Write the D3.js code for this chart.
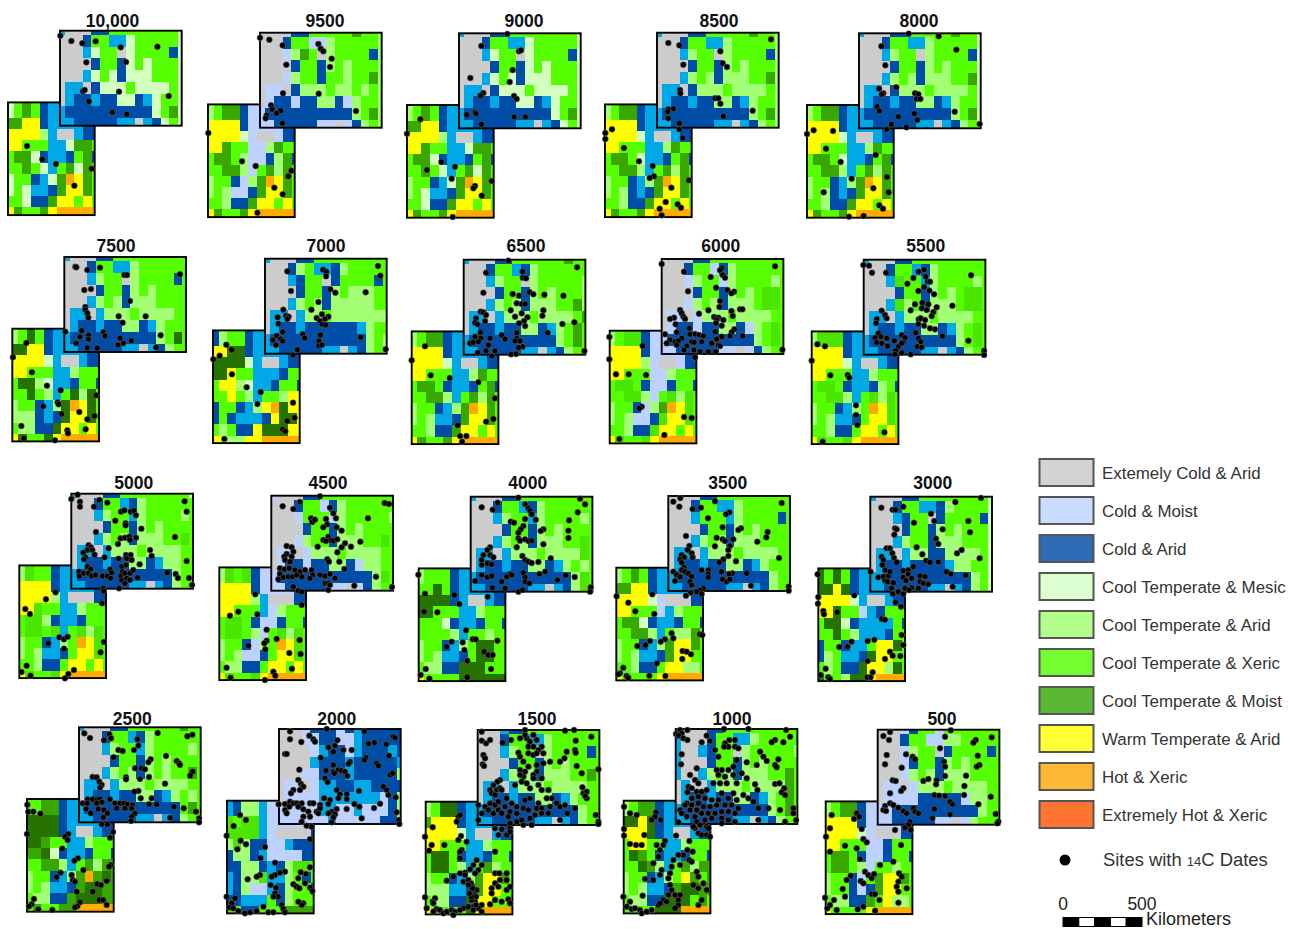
<!DOCTYPE html>
<html>
<head>
<meta charset="utf-8">
<script src="https://cdn.jsdelivr.net/npm/d3@7"></script>
<style>
  html, body { margin: 0; padding: 0; background: #fff; }
  svg { display: block; font-family: "Liberation Sans", Arial, sans-serif; }
</style>
</head>
<body>
<script>
// years before present, one map each
const periods = ["10,000","9500","9000","8500","8000","7500","7000","6500","6000","5500","5000","4500","4000","3500","3000","2500","2000","1500","1000","500"];

// climate class of every grid cell, one string per row
const cellCodes = ["g","p","s","d","m","a","x","e","t","v","y","o"];
const cellColors = ["#cccccc","#bed2ff","#00a9e6","#004da8","#d3ffbe","#a3ff73","#55ff00","#4ce600","#38a800","#267300","#ffff00","#ffaa00"];

const upperGrids = [
"sgggddxxxxxxxxm gggdxxssmxxxxxm gggsmxxgmxxxxdm ggggdxxdmxmxxxm gggsmxmdmmmxxxm gssgdmmmxmmmmxm gsddsddmmdsmxxm sddddddddddmxtm ssdddddssgsdmxm",
"ggggddxxxxxtxxa gggdxxppaxxxxxa gggpatxgaxxxxda ggggdxxdaxaxxxa gggpaxxdxxaxxta gppgdaaaxaaxaxa gpddpddaadpaxxa pddddddddddaxta ppdddddppgpdaxa",
"sgggddxxxxxxxxm gggdxxssmxxxxxm gggsmxxgmxxxxdm ggggdxxdmxmxxxm gggsmxmdmmmxxxm gssgdmmmxmmmmxm gsddsddmmdsmxxm sddddddddddmxtm ssdddddssgsdmxm",
"sgggddxxxxxtxxa gggdxxssaxxxxxa gggsaxxgaxxxxda ggggdxxdaxaxxxa gggsaxadaaaxxta gssgdaaaxaaaaxa gsddsddaadsaxxa sddddddddddaxta ssdddddssgsdaxa",
"sgggddxxxxxtxxm gggdxxssaxxxxxm gggsaxxgaxxxxdm ggggdxxdaxaxxxm gggsaxadaaaxxtm gssgdaaaxaaaaxm gsddsddaadsaxxm sddddddddddaxtm ssdddddssgsdaxm",
"sgggddxxxxxxxxx gggdxxssaxxxxxx gggsaxxgaxxxxdx ggggdxxdaxaxxxx gggsaxadaaaxxxx gssgsaaaxaaaaxx gsddsddaadsaxxx sddddddddddaxvx ssdddddssgsdaxx",
"sgggddxxxxxxxxx gggdaxssdaxxxxx gggsdxxgdxxxxdx ggggdxxdaxaaaxx gggsaxadaaaaaxx gssgsaaxaaaaaaa gsddsddddddsaxx sdddddddddddaxa ssdddddssgsdaxx",
"sgggddxxxxxxtxx gggdxxsdaxxxxxx gggsaxxgaxxxxxa ggggdxxdaxaxxxa gggsaxadaaaxxta gssgsaaaxaaaaxt gsddsddaadsaxtx sddddddddddaxtx ssdddddssgsdaxx",
"pgggddxxxxxxxxx gggdxxpdaxxxxxx gggpaxxpaxxxxax ggggdxxdaxaxeex gggpaxadaaaxeex gppgpaaaxaaaaxx gpddpddaadpaxex pddddddddddaxex ppdddddppgpdaxx",
"sgggddxxxxxxxxx gggdxxsdaxxxxxx gggsexxsaxxxxax ggggdxxdaxaxeex gggseaxdaaaxeex gssgsaaaxaaaaxx gsddsddaadsaxex sddddddddddaxex ssdddddssgsdaxx",
"sgggddxxxxxxxxm gggdxxsdaxxxxxx gggsaxxsaxxxxax ggggdxxdaxaxxxx gggsaxadaaaxxex gssgsaaaxaaaaxx gsddsddaadsaaxx sdddddddddddaxx ssdddddssgsdaxx",
"pgggddxxxxxxxxx gggdxxpdaxxxxxx gggpxxxpaxxxxxa ggggdxxdaxaxxxx gggpaxxdaaaxxex gppgpaaaxaaaaxx gpddpddaadpaaxx pdddddddddddaex ppdddddppgpdaxx",
"sgggddxxxxxxxxx gggdxxsdaxxxxxx gggsaxxsaxxxxax ggggdxxdaxaxxxx gggsaxadaaaxxex gssgsaaaxaaaaex gsddsddaadsaxax sdddddddddddaex ssdddddssgsdaex",
"ggggddxxxxxxxxx gggdxxssaxxxxxx gggsxxxsaxxxxdx ggggdxxdaxaxxxx gggsaxadaaaxxxx gssgsaaaxaaaaxx gsddsddaadsaxxx sdddddddddddaxx ssdddddssgsdaxx",
"sgggddxxxxxxxxm gggdxxssdaxxxxm gggsdxxgdxxxxdm ggggdxxdaxaxxxm gggsaxxdaaaxxxm gssgsaaddaaaaxm gsddsddddsaaxxm ssddddddddddaxm ssdddddssgsdaxm",
"sgggddxxxxxxtxx gggdxxsdaxxxxxx gggsaxxsaxxxxax ggggdxxdaxaxxxx gggsaxadaxaxxtx gssgsaaaxaaaaxx gsddsddaadsaxax sdddddddddddxtx ssdddddssgsdaxx",
"gggpdddpdsddddd gggppddppsddddd ggggpsddpsdddsd ggggsdddsddddds gggppdddsddddda gppgpssddssdddd gppppssssssspda pppppssppspppda ppppppspppppdda",
"gggsddxxxxxxxxx gggdxxssaxxxxxx gggsaxxgaxxxxdx ggggdxxdaxaxxxx gggsaxadaaaxxtx gssgsaaaxaaaaxx gsddsddaadsaxxx sdddddddddddaxx ssdddddssgsdaxx",
"sgggddxxxxxxxxx sgggdxxssaxxxxx sggsdxxgaxxxxxa sgggdxxdaxaxxxx sggsaxadaaaxxtx gsggsaaaxaaaatx gsddsddaadsaxtx sddddddddddaxtx ssdddddssgsdaxx",
"gggpdxxpxxxxxxx gggdxxppaaxxxxx gggpaxxgdxxxxdx gggpdxxdaxaxxxx gggpaxadaaaxxxx gppgpaaaxaaaaxx gppppdddddpaaxx ppddddddddddaxx ppdddddppgpaxxx"
];

const lowerGrids = [
"mxtxdssssss mxtxdssssss ttyydssssdd yyyyasggsdd yyxxxssmttx xttmdssdxtd xxtxmsxtmtx mxxdsmtoytx mxmssdtyytx xxmddtyyxyx ytxxtyooooo",
"axttdpppppp axttdpppppp yyyydppppdd yyyympggpdd yytxxppatxx xttxappdatd xxttapxtatx axxdpatoytx axappdtyytx xxaddtyyxyx ytxxtyooooo",
"axtxdssssss axtxdssssss ttyydssssdd yyyyasggsdd yytxxssmttx xttmdssdxtd xxtxmsxtmtx axxdsmtoytx axmssdtyytx xxmddtyyxyx ytxxtyooooo",
"axttdssssss axttdssssss yyyydssssdd yyyymsggsdd yyxxxssatxx xttxmssdxtd xxttasxtatx axxdsatoytx axadsdtyytx xxaddtyyxyx ytxxtyooooo",
"axttdssssss axttdssssss yyyydssssdd yyyymsggsdd yyxxxssatxx xttxmssdxtd xxttasxtatx axxdsatoytx axadsdtyytx xxaddtyyxyx ytxxtyooooo",
"axvxdssssss axvxdssssss vvyydssssdd yyyymsggsdd yyxxxssaxxx xvvamssdxxd xxvxasxvavx axxdsavoyvx aaadsdvyyvx xaaddvyyxyx yvxxvyooooo",
"daxxdssssss daxxdssssss yyvvdssssdd vvvvmsggsdd vvyxxsssdxx xyyamssdxxd xxyxasxxayy dxxdsayovyy dxdsssdyvvy xaxddyvvvyy yyaayyooooo",
"axttdssssss axttdssssss yyyydssssdd yyyymsggsdd yyxxxssatxx xttxdssdxtd xxttasxtatx axxdsatoytx axassdtyytx xxaddtyyxyx ytxxtyooooo",
"axeedpppppp axeedpppppp yyyydppppdd yyyyapggpdd yyxxxppaxxx xeexdppdxxd xxeeapxeaex axxdpatoyex axappdeyyex xxaddeyyxyx yexxeyooooo",
"aeeedssssss aeeedssssss yyyydssssdd yyyymsggsdd yyxxxssaxxx xeexdssdaxd xxeeasxeaex axxdsaxoyex axassdxyyex xxaddxyyxyx yexxeyooooo",
"aexxdssssss aexxdssssss yyyydssssdd yyyyasgggdd yyexxssaxxx xeeadssdxxx xeexesxeaex axxdsaxoyex axassdxyyex xxaddxyyxyx yexxeyooooo",
"aexedpppppp aexedpppppp yyyydppppdd yyyyasgggdd yyxxxspaxxx xeexdppdxxd xeexapxeaex axxdpaxoyex axappdxyyex xaaddxyyxyx yexxeyooooo",
"axxxdssssss axxxdssssss xxvxdssssdd vvvvdsggsdd vvxxxssaxxx xxxmdssdxxd xxxxasxxaxx axxdsaxvvxx axassdxvvxx xaaddvvvxxx yxxxxvvvvvv",
"axtxdssssss axtxdssssss ttyydssssdd yyyympgggdd yyxxxpsaxxx xttmdssdxxd xxttasxaatx axxdsatyytx axassdtyyxx xxaddxyyaax yxxxxyooooo",
"vxvxdssssss vxvxdssssss vvyvdssssdd yyyymsggsdd yyvxxpsdxxx xvvmdssssxd xxvxasssdxx dxxdssxyyvx daxssdvyyxx xaxddvyyavx vxxavvyoooo",
"xxttdssssss xxttdssssss vvvvdssssdd vvvvdsggsdd vvtxxssaxxx ttvmdssdxxd xxttasxtatt axxdsatotvt axassdtvvtt xaaddtvvvtt xtxxttooooo",
"sdaaspppppp sdaaspppppp exeespppppp eeeespggggd aeaddppsddd daadsppppdd ddaadsdaeex sdaaessaxdx sdappsdaxxd ddsssxdaxxx exddxxxtttt",
"axvvdssssss axvvdssssss tyyydssssdd yyyymsggsdd yyxxxssaxxx xvvxdssdxxd xvvxasxtaxx axxdsatyytx aaassdtyyxx xaaddvyyxxx yxxxxvyoooo",
"axttdssssss axttdssssss vvyvdssssdd yyyvdsggsdd xyyxxssaxxx xvtxdssdxxd xxvtasxtatt axxdsaxytxt axassdtvvtt xaaddvvvxtx xxxxvvvoooo",
"axttdpppppp axttdpppppp yyyydppppdd yyyympgggdd yyxxxppdxxx xttxdppdxxd xttxapxxaxx axxdpxtyytx axxdpdtyyxx xaaddtxyaax yxxxxyooooo"
];

// radiocarbon sites in map units, origin at the north west corner of the upper block
const sites10000 = [[1,15],[34,31],[67,38],[107,32],[182,50],[292,48],[79,95],[198,94],[69,182],[74,178],[177,183],[326,196],[87,212],[157,245],[200,251],[-99,346],[-53,386],[-12,400],[95,414],[43,465]];
const sites9500 = [[0,15],[28,21],[68,38],[175,34],[182,48],[190,56],[215,78],[210,103],[79,96],[69,182],[176,183],[33,218],[36,230],[62,234],[50,242],[20,248],[17,257],[67,272],[288,235],[-155,301],[-54,386],[-13,400],[94,414],[85,431],[43,465],[68,485],[-8,540]];
const sites9000 = [[67,38],[34,134],[73,179],[64,187],[48,237],[23,244],[51,241],[67,273],[-116,258],[-156,301],[-53,386],[-96,410],[-12,400],[-22,436],[98,443],[48,458],[43,465],[68,487],[-19,551],[145,2],[180,54],[186,51],[161,110],[152,146],[165,188],[173,197],[165,251],[199,251]];
const sites8500 = [[34,31],[67,38],[342,20],[190,56],[79,96],[197,92],[210,103],[69,172],[70,182],[174,197],[184,197],[190,213],[49,228],[34,230],[32,237],[34,257],[287,234],[199,251],[67,272],[67,290],[-135,290],[-155,301],[-155,319],[77,316],[-99,346],[-54,386],[-13,400],[-9,431],[-22,436],[96,443],[43,465],[26,508],[62,515],[72,525],[8,528],[14,548]];
const sites8000 = [[149,1],[239,9],[67,39],[292,49],[79,96],[60,166],[112,162],[73,180],[68,183],[168,180],[178,183],[173,197],[184,197],[54,220],[61,233],[166,241],[175,260],[118,250],[97,273],[83,288],[142,282],[287,235],[362,272],[-136,291],[-156,302],[-78,293],[-99,346],[50,365],[-55,386],[84,431],[-22,436],[43,465],[-106,477],[89,477],[61,516],[72,526],[-30,550],[14,548]];
const sites7500 = [[33,29],[36,31],[69,39],[107,32],[347,52],[180,54],[188,54],[60,99],[80,96],[197,132],[63,150],[63,158],[69,169],[72,182],[163,178],[244,178],[175,197],[52,221],[3,224],[47,239],[73,235],[72,246],[117,225],[122,237],[289,235],[35,259],[69,272],[99,273],[167,244],[201,251],[177,259],[161,264],[275,271],[-114,258],[-154,301],[-97,346],[-52,386],[-11,400],[96,415],[-20,436],[-17,442],[-63,448],[45,465],[-8,471],[91,477],[69,487],[-129,507],[64,517],[9,520],[11,529],[-121,544],[-28,550]];
const sites7000 = [[339,22],[346,51],[174,33],[184,39],[183,53],[67,38],[78,97],[196,92],[211,102],[302,101],[160,130],[139,153],[55,153],[63,171],[71,174],[67,181],[38,176],[40,195],[155,178],[171,167],[190,174],[180,181],[165,187],[171,197],[182,199],[53,220],[35,231],[23,244],[47,241],[53,247],[33,259],[113,226],[119,238],[166,229],[162,247],[162,261],[171,259],[287,236],[97,273],[84,289],[362,272],[-116,258],[-100,273],[-136,291],[-155,302],[-99,347],[-55,386],[-13,400],[-23,436],[84,432],[89,477],[67,487],[53,512],[61,518],[-122,541]];
const sites6500 = [[67,39],[59,99],[51,156],[59,158],[37,176],[67,166],[34,189],[41,194],[64,184],[50,218],[34,231],[51,236],[79,236],[19,251],[29,248],[44,246],[74,256],[42,279],[67,273],[94,274],[84,289],[-116,260],[-156,302],[-99,347],[-42,355],[44,368],[94,416],[89,478],[67,486],[-18,497],[-11,529],[8,529],[-5,546],[134,3],[176,36],[177,54],[187,56],[340,23],[197,97],[209,104],[242,105],[299,108],[147,103],[166,108],[159,131],[174,133],[184,133],[141,152],[174,161],[154,171],[239,152],[236,168],[191,173],[181,184],[166,191],[184,199],[296,193],[332,188],[159,219],[252,219],[114,226],[124,238],[159,236],[169,244],[154,244],[177,261],[164,264],[142,284],[157,283],[362,274]];
const sites6000 = [[0,15],[67,38],[180,28],[175,34],[340,22],[147,54],[183,48],[190,56],[79,97],[163,86],[197,93],[217,98],[209,103],[175,126],[173,144],[140,154],[209,156],[235,151],[242,151],[55,153],[60,163],[65,173],[70,180],[37,176],[25,180],[112,164],[157,174],[170,176],[165,183],[185,183],[163,193],[213,171],[180,200],[42,196],[83,208],[160,218],[10,226],[45,220],[85,226],[100,225],[112,228],[125,231],[218,211],[210,220],[180,233],[205,231],[243,231],[25,243],[15,253],[40,248],[60,238],[50,246],[90,248],[120,248],[97,250],[165,240],[150,253],[170,258],[175,261],[75,261],[45,258],[97,273],[115,278],[140,278],[162,278],[67,273],[100,295],[362,272],[-157,234],[-57,261],[-157,301],[-137,346],[-99,346],[-47,348],[-60,443],[-67,448],[67,474],[90,477],[8,528],[-127,540]];
const sites5500 = [[-1,16],[16,18],[25,39],[67,39],[181,30],[164,36],[322,47],[149,55],[131,72],[186,51],[192,66],[199,66],[181,82],[164,94],[197,93],[211,104],[266,138],[154,134],[141,152],[176,129],[194,134],[174,146],[189,151],[219,143],[209,157],[204,169],[54,153],[64,166],[69,176],[39,178],[37,191],[165,179],[171,176],[184,181],[164,193],[181,198],[199,206],[214,209],[156,219],[236,229],[44,221],[51,231],[34,234],[69,236],[114,226],[124,234],[92,243],[119,248],[164,236],[171,246],[39,248],[54,251],[72,259],[104,261],[114,251],[161,261],[174,263],[314,243],[96,273],[114,279],[141,284],[94,284],[361,273],[361,286],[-139,254],[-116,260],[-156,303],[-100,347],[-48,346],[-43,354],[-23,437],[-23,466],[-19,496],[62,518],[-123,546]];
const sites5000 = [[19,3],[0,16],[26,24],[26,39],[68,39],[84,19],[108,27],[340,23],[346,54],[149,54],[159,50],[178,54],[188,51],[194,65],[132,81],[163,89],[163,95],[210,105],[74,115],[311,130],[148,134],[161,132],[174,129],[176,139],[194,132],[140,151],[112,164],[52,155],[58,161],[63,169],[48,169],[36,177],[70,183],[42,191],[38,197],[100,191],[164,184],[178,184],[166,194],[181,199],[142,195],[236,169],[241,187],[346,202],[205,212],[48,219],[58,227],[23,234],[36,239],[51,239],[61,247],[24,247],[73,244],[94,247],[108,247],[116,227],[121,237],[118,254],[151,219],[164,214],[154,234],[148,247],[161,239],[176,239],[186,229],[199,252],[151,259],[166,254],[176,259],[161,269],[288,237],[313,241],[320,253],[353,253],[362,274],[143,284],[96,284],[97,292],[-47,296],[-76,317],[92,329],[-138,346],[-124,361],[-36,431],[-22,437],[-11,429],[-69,449],[-22,465],[98,445],[88,476],[-134,516],[-149,535],[-122,546],[8,529],[-9,541],[-19,554]];
const sites4500 = [[146,2],[86,19],[34,32],[66,40],[340,22],[353,25],[176,36],[186,53],[194,68],[290,68],[119,68],[123,79],[131,72],[164,70],[168,86],[156,95],[196,95],[211,105],[267,138],[156,133],[171,123],[176,133],[186,135],[198,131],[164,136],[221,143],[239,153],[211,155],[198,170],[139,153],[46,151],[61,155],[66,168],[46,175],[39,183],[41,193],[61,183],[56,198],[168,191],[173,198],[204,198],[26,218],[39,221],[54,218],[71,223],[86,228],[101,223],[121,223],[219,220],[26,235],[36,245],[51,243],[64,243],[76,238],[91,243],[124,238],[116,248],[21,251],[146,238],[161,241],[176,235],[191,248],[161,263],[171,263],[66,273],[176,268],[81,285],[91,288],[171,283],[249,270],[314,243],[362,274],[-48,296],[-42,356],[-99,348],[-124,360],[91,328],[-14,402],[16,430],[85,433],[-14,435],[-21,443],[-69,450],[-18,461],[54,472],[88,475],[-134,516],[-122,546],[6,528],[12,540],[62,519],[-19,553]];
const sites4000 = [[33,32],[66,39],[81,18],[58,152],[50,160],[38,175],[58,175],[33,190],[68,182],[33,205],[50,200],[63,203],[13,253],[33,235],[50,242],[63,238],[65,273],[51,300],[-34,322],[-49,295],[-137,291],[-140,345],[-100,347],[-157,234],[-14,401],[-57,435],[-72,450],[-24,437],[-19,460],[6,428],[15,428],[40,465],[53,475],[66,475],[-10,492],[61,517],[-135,517],[-150,535],[-124,546],[-10,542],[80,432],[143,3],[328,6],[343,23],[163,23],[173,35],[178,42],[183,53],[321,47],[195,69],[295,71],[120,75],[130,78],[163,67],[158,88],[150,98],[143,108],[293,102],[293,124],[218,98],[210,103],[218,143],[143,125],[148,132],[163,128],[173,133],[183,132],[138,152],[155,178],[163,190],[173,195],[183,199],[203,196],[240,185],[223,225],[206,232],[285,236],[312,241],[158,228],[163,242],[118,232],[108,240],[93,255],[123,235],[163,255],[176,260],[260,250],[103,275],[143,285],[156,280],[360,272],[358,285]];
const sites3500 = [[36,6],[15,17],[140,16],[33,32],[73,39],[98,35],[340,21],[183,49],[173,55],[119,67],[218,97],[210,102],[163,94],[298,108],[294,124],[53,120],[145,125],[163,130],[170,135],[195,130],[267,137],[140,151],[185,150],[63,150],[58,162],[70,172],[73,184],[40,177],[48,184],[35,190],[40,200],[180,162],[180,180],[165,190],[153,199],[203,196],[332,186],[15,227],[47,214],[40,222],[50,227],[25,237],[20,255],[35,242],[60,232],[70,242],[65,257],[100,222],[120,222],[120,234],[120,244],[160,227],[192,232],[235,232],[182,234],[163,250],[175,257],[185,250],[70,267],[248,269],[105,277],[95,282],[85,287],[100,294],[67,290],[53,299],[361,272],[361,284],[-48,295],[-120,320],[-99,346],[-155,301],[-42,354],[10,412],[95,415],[102,417],[15,427],[-10,430],[-23,437],[-55,435],[-68,447],[-93,450],[43,465],[55,467],[68,475],[42,489],[-34,502],[-135,515],[-145,532],[-150,535],[-125,540],[-120,545],[-57,539],[-9,540]];
const sites3000 = [[332,4],[99,30],[255,16],[33,33],[67,39],[75,39],[182,51],[192,73],[131,78],[294,73],[217,98],[299,107],[74,95],[79,98],[72,114],[197,126],[204,142],[139,152],[49,155],[59,155],[66,170],[34,180],[39,190],[71,184],[79,197],[274,160],[260,170],[156,173],[167,192],[179,197],[204,196],[328,185],[36,205],[44,220],[1,225],[24,242],[39,240],[54,238],[59,225],[44,252],[52,255],[99,222],[114,220],[129,210],[114,232],[99,242],[107,252],[124,245],[149,238],[164,240],[149,255],[159,260],[229,225],[242,232],[286,236],[174,263],[247,270],[69,258],[64,275],[84,285],[104,275],[124,273],[144,275],[67,292],[99,292],[117,280],[76,317],[92,330],[-48,296],[34,367],[44,369],[-158,233],[-156,301],[-157,321],[-141,343],[-139,353],[-99,347],[94,415],[99,445],[-56,435],[-68,450],[-93,451],[-8,433],[12,429],[59,465],[67,477],[90,478],[44,487],[-8,493],[-134,516],[-149,535],[-126,542],[-121,547],[7,527],[-9,542],[1,542]];
const sites2500 = [[16,18],[33,32],[236,17],[75,39],[91,21],[96,33],[340,22],[325,27],[175,36],[178,55],[118,68],[131,71],[165,68],[261,86],[104,90],[215,96],[208,105],[293,101],[300,108],[303,113],[168,123],[188,123],[198,126],[341,133],[333,145],[41,149],[53,150],[61,163],[68,173],[63,181],[141,150],[141,156],[183,155],[210,149],[258,169],[178,191],[166,193],[185,213],[218,213],[26,216],[41,216],[55,216],[63,216],[93,216],[11,228],[25,228],[53,228],[69,225],[108,228],[123,228],[135,228],[145,231],[160,233],[233,231],[210,231],[285,238],[21,245],[35,258],[58,245],[75,248],[85,258],[73,270],[113,243],[138,243],[158,243],[168,258],[158,268],[314,243],[351,253],[273,271],[360,273],[360,285],[156,281],[68,291],[85,291],[-155,232],[-152,253],[-137,253],[-116,259],[-156,320],[102,314],[93,331],[-32,320],[-42,328],[-34,338],[-50,364],[-3,393],[-14,400],[95,413],[90,418],[-55,436],[13,428],[-67,449],[-22,443],[-19,458],[-12,463],[83,461],[55,470],[66,473],[41,493],[-7,493],[61,518],[73,518],[-135,515],[-142,531],[-150,537],[3,525],[-5,537],[-12,540],[-80,548],[-122,546],[83,533]];
const sites2000 = [[33,7],[143,0],[256,7],[33,31],[67,39],[91,20],[103,31],[108,38],[175,34],[343,23],[348,26],[268,44],[286,41],[322,46],[148,55],[168,50],[163,68],[193,63],[218,63],[18,75],[23,75],[330,80],[125,86],[261,86],[256,93],[213,98],[208,105],[293,103],[298,110],[163,108],[61,122],[141,125],[163,128],[178,123],[188,125],[198,128],[205,141],[166,133],[333,138],[341,133],[58,153],[66,165],[73,173],[63,183],[43,183],[36,193],[138,148],[146,160],[240,186],[313,173],[323,183],[328,198],[350,205],[173,183],[183,196],[203,196],[178,208],[203,210],[135,208],[153,213],[148,225],[303,224],[226,225],[241,233],[285,237],[33,218],[43,223],[53,223],[68,223],[93,223],[103,223],[123,228],[18,225],[31,233],[58,233],[18,243],[23,253],[73,241],[88,248],[113,248],[123,238],[118,253],[93,263],[73,263],[68,278],[203,240],[173,240],[158,248],[148,253],[168,256],[163,265],[158,280],[353,250],[359,273],[361,285],[248,268],[-1,226],[83,290],[98,293],[-117,258],[-99,273],[-136,291],[-157,320],[-115,335],[-99,346],[-125,361],[93,331],[-42,354],[-55,387],[-12,401],[93,415],[18,428],[3,431],[-12,438],[-22,443],[65,430],[81,435],[58,448],[-57,438],[-67,443],[-94,451],[-25,468],[-9,476],[-12,493],[-2,503],[-17,503],[43,466],[53,473],[61,478],[78,463],[93,476],[100,486],[-157,503],[-132,508],[-142,523],[-149,535],[-137,538],[8,528],[13,540],[-122,546],[-102,553],[-87,550],[-67,546],[-47,533],[-32,550],[-17,550],[73,523],[68,528],[58,518],[18,550]];
const sites1500 = [[12,5],[142,0],[262,2],[289,0],[12,32],[25,40],[37,30],[75,38],[100,30],[127,25],[147,25],[167,15],[157,35],[177,30],[192,50],[142,15],[341,20],[294,32],[17,75],[22,85],[15,103],[19,108],[152,50],[167,50],[182,60],[197,70],[152,70],[167,75],[177,70],[122,68],[127,80],[137,95],[292,60],[267,65],[260,85],[247,95],[294,68],[217,95],[197,100],[177,105],[152,110],[127,120],[142,125],[177,125],[167,135],[137,140],[127,135],[167,145],[362,118],[297,108],[312,130],[67,150],[59,155],[47,165],[37,180],[57,180],[67,175],[42,190],[52,195],[72,180],[112,165],[132,155],[147,160],[157,175],[182,165],[192,180],[192,145],[212,180],[222,205],[314,172],[317,190],[327,185],[327,205],[322,198],[2,225],[22,230],[37,220],[52,225],[62,215],[87,205],[102,220],[117,230],[142,210],[157,205],[182,220],[207,205],[237,220],[32,240],[47,250],[62,240],[82,230],[97,245],[117,250],[137,235],[152,240],[177,235],[192,235],[217,230],[247,230],[262,225],[292,235],[12,250],[2,270],[72,250],[92,260],[117,275],[137,285],[157,265],[172,255],[192,250],[212,250],[247,270],[269,250],[354,255],[362,275],[362,282],[132,270],[97,280],[162,285],[52,295],[72,298],[97,295],[62,315],[87,315],[97,305],[-58,260],[-53,255],[-63,275],[-135,292],[-158,320],[-50,318],[-58,330],[-138,345],[-100,345],[-146,362],[-33,335],[-48,360],[-53,385],[-53,365],[52,365],[-3,390],[-13,405],[12,405],[-23,418],[2,420],[-38,428],[-53,430],[-73,440],[-93,452],[-43,455],[-38,435],[-8,430],[52,430],[65,430],[87,430],[67,450],[87,450],[-28,450],[-23,470],[-18,485],[-13,500],[-8,515],[42,475],[52,460],[42,490],[62,470],[87,480],[97,470],[-3,480],[-158,502],[-128,505],[-135,515],[-133,520],[52,510],[72,515],[92,508],[97,520],[37,523],[12,525],[-13,530],[2,535],[-28,530],[12,545],[-123,537],[-113,540],[-153,535],[-103,550],[-93,545],[-78,540],[-68,545],[-43,535],[-13,540],[-73,555],[-53,540],[-133,545],[-20,460],[-15,475],[-10,495],[-18,510],[-5,500],[-5,525],[-20,500],[-25,490],[-28,465]];
const sites1000 = [[1,15],[13,3],[18,13],[8,20],[23,28],[35,33],[35,3],[145,0],[218,0],[331,3],[343,23],[93,20],[78,40],[103,36],[298,33],[288,40],[323,40],[18,76],[16,106],[63,118],[43,138],[118,63],[128,83],[161,33],[178,33],[148,43],[158,53],[178,53],[188,58],[145,53],[253,68],[263,83],[273,96],[308,91],[298,108],[303,115],[243,108],[213,100],[183,93],[173,113],[158,123],[138,123],[123,123],[128,138],[148,143],[173,138],[198,133],[213,148],[238,166],[153,163],[133,163],[113,163],[183,163],[298,165],[311,163],[325,178],[318,190],[328,198],[58,153],[68,163],[38,173],[48,178],[35,190],[63,188],[78,188],[93,183],[138,193],[173,193],[203,198],[245,183],[218,208],[233,218],[48,208],[68,203],[33,223],[48,228],[68,223],[88,208],[108,213],[128,213],[158,208],[183,213],[13,243],[28,228],[18,253],[43,243],[63,243],[83,233],[103,233],[123,228],[148,228],[168,228],[188,238],[248,238],[278,238],[313,243],[353,238],[353,253],[361,273],[8,280],[33,263],[58,263],[78,253],[98,253],[118,253],[138,248],[158,248],[178,253],[138,268],[108,268],[88,273],[63,278],[158,273],[178,278],[248,273],[328,278],[73,288],[93,293],[58,298],[138,283],[68,313],[78,318],[93,318],[103,323],[53,293],[98,298],[-155,233],[-137,253],[-117,258],[-59,250],[-62,263],[-45,273],[-72,273],[-155,300],[-155,320],[-94,318],[-137,345],[-119,348],[-102,348],[-57,348],[-32,336],[-37,348],[-47,363],[1,320],[41,336],[35,363],[51,368],[41,393],[23,378],[8,378],[-7,393],[-12,413],[-52,383],[-67,403],[-42,423],[-17,433],[-22,448],[-92,450],[-67,453],[-47,438],[63,428],[68,443],[53,468],[68,478],[83,463],[93,483],[-17,468],[-12,483],[-2,498],[13,498],[-22,498],[-37,513],[-52,528],[8,513],[8,528],[-2,538],[-157,503],[-99,500],[-137,518],[-147,533],[-132,540],[-122,538],[-107,543],[-102,553],[-87,548],[-72,543],[-47,523],[-27,518],[78,513],[68,528],[48,398],[13,408]];
const sites500 = [[37,7],[17,19],[219,2],[202,21],[342,23],[294,31],[287,39],[34,31],[187,56],[85,74],[105,81],[112,89],[27,76],[22,104],[300,78],[199,96],[202,111],[305,106],[297,111],[72,114],[265,138],[137,154],[152,148],[177,151],[202,139],[175,164],[260,169],[259,196],[45,152],[54,154],[77,176],[70,184],[37,191],[339,201],[170,196],[184,198],[202,199],[217,216],[224,224],[302,224],[217,254],[37,221],[47,226],[22,229],[17,241],[25,244],[62,234],[77,244],[87,251],[107,236],[112,246],[122,251],[170,238],[354,253],[362,276],[164,266],[97,276],[92,286],[82,294],[99,301],[52,301],[359,281],[-138,256],[-63,251],[-55,261],[-71,268],[-48,298],[-143,296],[-155,321],[-98,348],[-143,366],[-43,328],[-33,338],[-63,356],[-53,388],[70,346],[47,396],[7,406],[-38,426],[-28,436],[-11,433],[-18,446],[-51,454],[-81,438],[-93,451],[-43,461],[64,431],[72,441],[62,456],[57,471],[87,476],[62,486],[-105,478],[-98,501],[-18,493],[-8,494],[5,511],[-158,504],[-131,511],[-143,526],[-151,536],[-123,541],[-60,539],[-43,531],[-8,543],[62,519]];
const siteLists = [sites10000,sites9500,sites9000,sites8500,sites8000,sites7500,sites7000,sites6500,sites6000,sites5500,sites5000,sites4500,sites4000,sites3500,sites3000,sites2500,sites2000,sites1500,sites1000,sites500];

const legendLabels = ["Extemely Cold & Arid","Cold & Moist","Cold & Arid","Cool Temperate & Mesic","Cool Temperate & Arid","Cool Temperate & Xeric","Cool Temperate & Moist","Warm Temperate & Arid","Hot & Xeric","Extremely Hot & Xeric"];
const legendColors = ["#d3d3d3","#cbdcff","#2e6db5","#dbffcf","#b3ff8c","#75ff33","#5cb833","#ffff33","#ffb833","#ff7433"];
const scaleStops = [0,100,200,300,400,500];

// page layout, the panels were pasted by hand so they do not line up exactly
const panelOrigins = [[60,30.7],[260,32.7],[459,33.3],[657,32.7],[859,33.3],[64.3,257],[265,258.7],[463.7,259.7],[661.7,259],[863.7,259.7],[71.3,493.7],[271.3,495.7],[470.7,496.7],[668.3,496],[870.3,496.7],[79,727.3],[279,729],[477.7,730],[675.7,729],[877.7,729.7]];
const titleCenters = [112.5,325,524,719,919,116,326,526,720.7,925.7,133.7,328,527.7,727.7,932.7,132.3,336.7,537,732,942];
const titleBaselines = [26.5,251.5,489,725];

const svg = d3.select("body").append("svg").attr("width", 1297).attr("height", 929);
const color = d3.scaleOrdinal(cellCodes, cellColors);
const siteX = d3.scaleLinear().domain([0, 365]).range([0, 121.7]);
const siteY = d3.scaleLinear().domain([0, 285]).range([0, 95]);

// the reference is a slightly soft raster
svg.append("filter").attr("id", "soft").append("feGaussianBlur").attr("stdDeviation", 0.35);

const upperBlock = {
    dx: 0, dy: 0, w: 121.7, h: 95,
    col: d3.scaleLinear().domain([1, 2]).range([5.3, 13.97]),
    row: d3.scaleLinear().domain([1, 2]).range([4, 15.83])
};
const lowerBlock = {
    dx: -52, dy: 71.7, w: 86.7, h: 112.7,
    col: d3.scaleLinear().domain([1, 2]).range([5.6, 14.27]),
    row: d3.scaleLinear().domain([1, 2]).range([4.3, 15.5])
};

function drawBlock(panel, rows, block, id) {
    const g = panel.append("g").attr("transform", `translate(${block.dx},${block.dy})`);
    g.append("clipPath").attr("id", id).append("rect").attr("width", block.w).attr("height", block.h);
    const cells = [];
    rows.forEach((line, r) => line.split("").forEach((c, i) => cells.push({r, i, c})));
    g.append("rect").attr("width", block.w).attr("height", block.h).attr("fill", "#fff");
    g.append("g").attr("clip-path", `url(#${id})`)
        .append("g").attr("filter", "url(#soft)")
        .selectAll("rect").data(cells).join("rect")
        .attr("x", d => block.col(d.i))
        .attr("y", d => block.row(d.r))
        .attr("width", d => block.col(d.i + 1) - block.col(d.i))
        .attr("height", d => block.row(d.r + 1) - block.row(d.r))
        .attr("shape-rendering", "crispEdges")
        .attr("fill", d => color(d.c));
    g.append("rect").attr("width", block.w).attr("height", block.h)
        .attr("fill", "none").attr("stroke", "#000").attr("stroke-width", 1.9);
}

periods.forEach((label, p) => {
    const panel = svg.append("g").attr("transform", `translate(${panelOrigins[p]})`);
    drawBlock(panel, lowerGrids[p].split(" "), lowerBlock, "low" + p);
    drawBlock(panel, upperGrids[p].split(" "), upperBlock, "up" + p);
    panel.append("g").selectAll("circle").data(siteLists[p]).join("circle")
        .attr("cx", d => siteX(d[0]))
        .attr("cy", d => siteY(d[1]))
        .attr("r", 3)
        .attr("fill", "#000")
        .attr("stroke", "#777")
        .attr("stroke-width", 0.5);
    svg.append("text")
        .attr("x", titleCenters[p])
        .attr("y", titleBaselines[Math.floor(p / 5)])
        .attr("text-anchor", "middle")
        .attr("font-weight", "bold")
        .attr("font-size", 17.5)
        .attr("fill", "#111")
        .text(label);
});

// legend
const legendY = d3.scaleBand().domain(legendLabels).range([459, 839]);
const legend = svg.append("g").selectAll("g").data(legendLabels).join("g")
    .attr("transform", d => `translate(1039.5,${legendY(d)})`);
legend.append("rect")
    .attr("width", 54).attr("height", 27)
    .attr("fill", (d, i) => legendColors[i])
    .attr("stroke", "#555").attr("stroke-width", 2);
legend.append("text")
    .attr("x", 62.5).attr("y", 20)
    .attr("font-size", 16.9).attr("fill", "#333")
    .text(d => d);

svg.append("circle").attr("cx", 1065).attr("cy", 860).attr("r", 5.5).attr("fill", "#000");
const sitesLabel = svg.append("text").attr("x", 1103).attr("y", 866).attr("font-size", 18.4).attr("fill", "#333");
sitesLabel.append("tspan").text("Sites with ");
sitesLabel.append("tspan").attr("font-size", 13).text("14");
sitesLabel.append("tspan").text("C Dates");

// scale bar
const km = d3.scaleLinear().domain([0, 500]).range([1063, 1142]);
const segments = d3.pairs(scaleStops);
svg.append("g").selectAll("rect").data(segments).join("rect")
    .attr("x", d => km(d[0]))
    .attr("y", 917.5)
    .attr("width", d => km(d[1]) - km(d[0]))
    .attr("height", 9)
    .attr("fill", (d, i) => i % 2 ? "#fff" : "#000")
    .attr("stroke", "#000")
    .attr("stroke-width", 1);
svg.append("g").selectAll("text").data([0, 500]).join("text")
    .attr("x", d => km(d))
    .attr("y", 909.5)
    .attr("text-anchor", "middle")
    .attr("font-size", 17.5)
    .attr("fill", "#222")
    .text(d => d);
svg.append("text").attr("x", 1146).attr("y", 924.5).attr("font-size", 18).attr("fill", "#222").text("Kilometers");
</script>
</body>
</html>
